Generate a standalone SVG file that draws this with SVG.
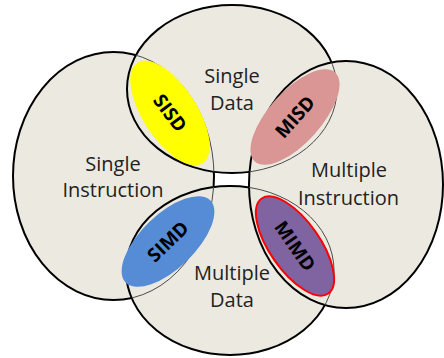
<svg xmlns="http://www.w3.org/2000/svg" width="444" height="358" viewBox="0 0 444 358">
<style>
.set{fill:#ECEAE0;stroke:#000;stroke-width:2}
.edge{fill:none;stroke:#4a4a4a;stroke-width:1}
.lbl{font-family:"Open Sans","Liberation Sans",sans-serif;font-size:20px;fill:#222;text-anchor:middle}
.tag{font-family:"Open Sans","Liberation Sans",sans-serif;font-size:19px;font-weight:bold;fill:#000;text-anchor:middle}
</style>
<defs>
<clipPath id="cTop"><ellipse cx="232" cy="89" rx="105" ry="84"/></clipPath>
<clipPath id="cBottom"><ellipse cx="230" cy="270.5" rx="104" ry="84.5"/></clipPath>
<clipPath id="cRight"><ellipse cx="346" cy="184.5" rx="97" ry="123.5"/></clipPath>
</defs>
<rect width="444" height="358" fill="#fff"/>
<g id="single-instruction">
<ellipse class="set" cx="113.5" cy="176" rx="100.5" ry="124"/>
<text class="lbl" x="113" y="171">Single</text>
<text class="lbl" x="113" y="197">Instruction</text>
</g>
<g id="single-data">
<ellipse class="set" cx="232" cy="89" rx="105" ry="84"/>
<text class="lbl" x="232" y="83">Single</text>
<text class="lbl" x="232" y="110">Data</text>
</g>
<g id="multiple-data">
<ellipse class="set" cx="230" cy="270.5" rx="104" ry="84.5"/>
<text class="lbl" x="232" y="280">Multiple</text>
<text class="lbl" x="232" y="307">Data</text>
</g>
<g id="multiple-instruction">
<ellipse class="set" cx="346" cy="184.5" rx="97" ry="123.5"/>
<text class="lbl" x="349" y="177">Multiple</text>
<text class="lbl" x="348.5" y="205">Instruction</text>
</g>
<g id="hidden-edges">
<ellipse class="edge" cx="113.5" cy="176" rx="100.5" ry="124" clip-path="url(#cTop)"/>
<ellipse class="edge" cx="113.5" cy="176" rx="100.5" ry="124" clip-path="url(#cBottom)"/>
<ellipse class="edge" cx="232" cy="89" rx="105" ry="84" clip-path="url(#cRight)"/>
<ellipse class="edge" cx="230" cy="270.5" rx="104" ry="84.5" clip-path="url(#cRight)"/>
</g>
<g id="sisd" transform="translate(170,113) rotate(57)">
<ellipse cx="0" cy="0" rx="60" ry="27" fill="#FFFF00"/>
<text class="tag" x="0" y="0" dy="0.35em" transform="rotate(-4)">SISD</text>
</g>
<g id="misd" transform="translate(295,117) rotate(-48)">
<ellipse cx="0" cy="0" rx="60" ry="26" fill="#D99694"/>
<text class="tag" x="0" y="0" dy="0.35em">MISD</text>
</g>
<g id="simd" transform="translate(168,241.5) rotate(-44)">
<ellipse cx="0" cy="0" rx="59" ry="27" fill="#568CD6"/>
<text class="tag" x="0" y="0" dy="0.35em">SIMD</text>
</g>
<g id="mimd" transform="translate(295,246) rotate(55)">
<ellipse cx="0" cy="0" rx="58" ry="25" fill="#8064A2" stroke="#FF0000" stroke-width="2"/>
<text class="tag" x="0" y="0" dy="0.35em">MIMD</text>
</g>
<g id="connectors"/>
</svg>
